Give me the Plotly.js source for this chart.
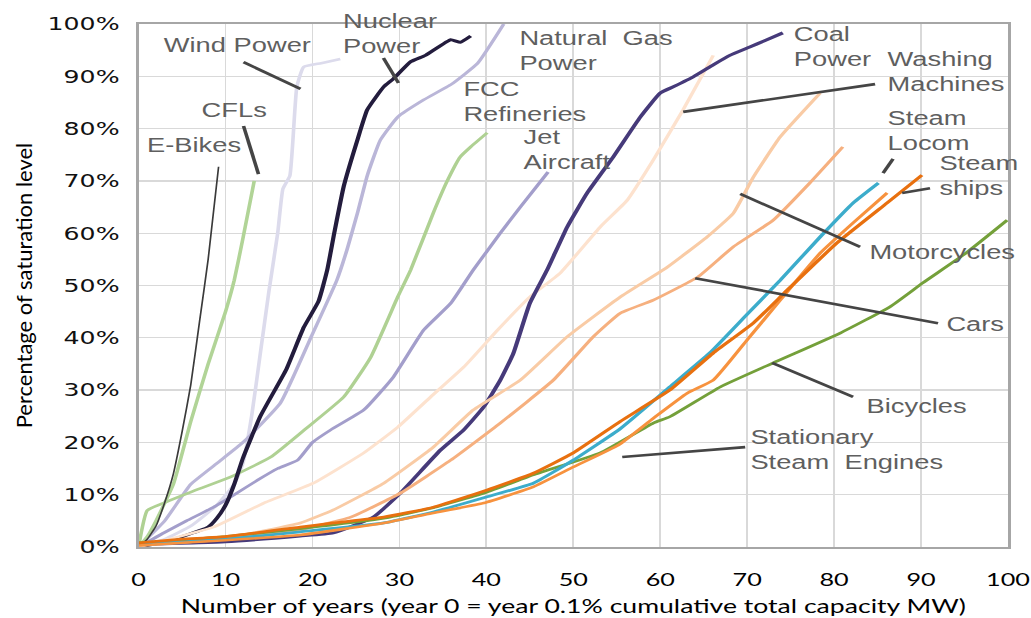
<!DOCTYPE html>
<html>
<head>
<meta charset="utf-8">
<script src="https://cdn.plot.ly/plotly-3.0.1.min.js"></script>
<style>
  html, body { margin: 0; padding: 0; overflow: hidden; background: #fff; }
  #chart { width: 736px; height: 618px; transform: scaleX(1.4); transform-origin: 0 0; }
  .g-ytitle { transform-box: fill-box; transform-origin: 50% 50%; transform: scaleX(0.7); }
</style>
</head>
<body>
<div id="chart"></div>
<script>
// ---- data (x = years since 0.1% capacity, y = % of saturation level) ----
const ebikesX = [0, 1, 2, 3, 4, 5, 6, 7, 8, 9.2];
const ebikesY = [0, 1.5, 4, 8.5, 14, 22, 31, 43, 55, 72.7];

const cflX = [0, 1, 2, 4, 6, 8, 10, 11, 12, 13.3];
const cflY = [0, 2, 5, 12, 24, 35, 45, 51, 59, 70];

const windX = [0, 3, 6, 9, 11, 12, 13, 14, 15, 16, 16.6, 17.4, 18.2, 19, 21, 23.2];
const windY = [0, 1.5, 4, 8, 12, 16, 25, 37, 49, 60, 68.5, 71, 88, 91.8, 92.5, 93.3];

const nuclearX = [0, 3, 5, 8, 9, 10, 11, 12, 14, 17, 19, 20.7, 21.7, 22.5, 23.6, 25.2, 26.3, 28.2, 29.3, 31.3, 33, 35.9, 37, 38.2];
const nuclearY = [0, 1, 2, 3.8, 5.5, 8, 12, 17, 25, 34, 42, 47, 53, 60, 69, 78, 83.6, 88, 89.5, 92.8, 94, 97, 96.5, 97.7];

const gasX = [0, 3, 6, 9, 12, 16.3, 19.8, 22.8, 24, 25.2, 26.3, 27.8, 29.8, 32.8, 36, 39, 42];
const gasY = [0, 5, 12, 16, 20, 27.5, 40, 51, 57, 64, 71, 77.8, 82.2, 85.5, 88.5, 92.5, 100];

const fccX = [0, 1, 3, 6, 10.6, 15.2, 19, 23.6, 26.7, 29.8, 31.3, 33.9, 35.5, 37, 38.2, 40.1];
const fccY = [0, 7, 8.5, 10.5, 13.4, 17.2, 22.3, 28.7, 36.3, 47.8, 53, 63.9, 70, 74.6, 76.5, 79.2];

const jetX = [0, 2.9, 5.5, 8.6, 11, 13.7, 16, 18.3, 20, 22.1, 25.9, 29.3, 32.8, 35.9, 38.5, 41.6, 43.9, 47.1];
const jetY = [0, 2.7, 5, 7.6, 10, 12.8, 15, 16.6, 20, 22.4, 26.2, 32.5, 41.5, 46.6, 53, 60, 65, 71.7];

const coalX = [0, 10, 18.6, 22.4, 27, 30.1, 34.7, 37.4, 39.7, 41.6, 43.1, 45, 47, 49.3, 51.6, 54.6, 57.7, 60, 61.5, 63.8, 66.1, 68, 70.3, 72, 74.1];
const coalY = [0.5, 1, 2.1, 2.7, 5.7, 10.3, 18.5, 22.4, 26.8, 31.9, 37, 46.6, 53, 61.2, 67.7, 74.6, 82.2, 86.8, 88, 89.9, 92.2, 94, 95.6, 96.8, 98.3];

const washX = [0, 8.6, 14.4, 20.1, 25.9, 29.8, 33.6, 37.4, 41.3, 45, 48.5, 53.1, 56.2, 59.2, 62.6, 66.1];
const washY = [0, 3.8, 8.4, 12.2, 18, 22.9, 28.7, 34.4, 41.5, 47.8, 52.4, 61.2, 66.3, 74, 83.5, 94];

const motoX = [0, 10.6, 18.6, 22.4, 28.2, 33.9, 38.5, 43.9, 49.3, 55.4, 60.8, 65.4, 68.4, 70.7, 73.8, 78.4];
const motoY = [0.5, 1.9, 4.6, 7.1, 12.2, 19.1, 26.2, 31.9, 40.2, 47.8, 53.5, 59.3, 63.8, 70.7, 78.4, 86.8];

const carsX = [0, 10, 18.6, 24.4, 30.1, 35.9, 41.6, 47.7, 52.3, 55.4, 59.2, 64.3, 68.4, 73, 77.2, 81];
const carsY = [0.3, 1.5, 3.3, 5.7, 10.3, 16.6, 23.7, 31.9, 40.2, 44.7, 47.2, 51.6, 57.4, 62.5, 69.6, 76.5];

const bikeX = [0, 5, 10, 18.6, 28.2, 33.9, 40.1, 45.4, 53.1, 59.2, 61.1, 66.9, 73, 80.7, 86.4, 90.2, 95, 99.9];
const bikeY = [0.8, 1.3, 2, 3.5, 5.5, 7.5, 10.5, 13.8, 18, 23.7, 24.9, 30.6, 35.2, 40.9, 45.9, 50.5, 56, 62.5];

const locoX = [0, 5, 10, 18.6, 28.2, 33.9, 40.1, 45.4, 50, 55.4, 61.1, 65.7, 70, 73.8, 78.4, 82.2, 85.1];
const locoY = [0.5, 1, 1.5, 2.9, 4.6, 6.7, 9.6, 12.2, 16.6, 22.6, 30.6, 37.1, 44.5, 51, 59.3, 65.8, 69.6];

const statX = [0, 5, 10, 18.6, 28.2, 33.9, 39.7, 45.4, 50, 55.2, 59.2, 63.1, 66.1, 70, 73.8, 78.4, 82.2, 86.1];
const statY = [0.3, 0.8, 1.3, 2.3, 4.6, 6.5, 8.4, 11.5, 15.3, 19.5, 24.6, 29.4, 31.9, 39.6, 47.2, 56.2, 62, 67.7];

const shipX = [0, 5, 10, 18.6, 22.4, 28.2, 33.9, 40.1, 45.4, 50, 55.4, 61.1, 66.1, 70.7, 74.6, 80.3, 86.1, 90.1];
const shipY = [0.8, 1.5, 2, 3.8, 4.6, 5.7, 7.6, 10.9, 14.1, 18, 24, 30, 37.1, 42.8, 49.1, 58.1, 65.8, 71.1];

// tick labels
const xTickVals = [0, 10, 20, 30, 40, 50, 60, 70, 80, 90, 100];
const yTickVals = [0, 10, 20, 30, 40, 50, 60, 70, 80, 90, 100];
const yTickText = ['0%', '10%', '20%', '30%', '40%', '50%', '60%', '70%', '80%', '90%', '100%'];

// labels (text, anchor position in data units)
const labelText = ['Wind Power', 'Nuclear<br>Power', 'Natural\u00a0 Gas<br>Power', 'FCC<br>Refineries', 'Jet<br>Aircraft',
  'CFLs', 'E-Bikes', 'Coal<br>Power', 'Washing<br>Machines', 'Steam<br>Locom', 'Steam<br>ships',
  'Motorcycles', 'Cars', 'Bicycles', 'Stationary<br>Steam\u00a0 Engines'];
const labelX = [2.6, 23.2, 43.5, 37.0, 43.9, 6.9, 0.6, 75.0, 85.9, 85.9, 91.8, 83.7, 92.6, 83.4, 70.1];
const labelY = [96.0, 98.1, 95.0, 85.2, 76.0, 83.5, 76.8, 95.7, 90.9, 79.7, 71.1, 56.5, 42.7, 26.9, 18.7];

// leader lines (start on curve -> end at label)
const leaderX0 = [12.07, 12.07, 28.16, 62.64, 69.2, 64.02, 72.87, 55.63, 86.78, 91.03];
const leaderY0 = [92.7, 80.5, 93.5, 83.2, 67.5, 51.4, 35.2, 17.2, 74.2, 68.6];
const leaderX1 = [18.62, 13.79, 29.89, 84.71, 82.99, 91.95, 82.18, 69.77, 85.63, 87.82];
const leaderY1 = [87.6, 71.3, 88.7, 88.5, 57.4, 42.8, 28.7, 19.1, 71.5, 67.7];

// ---- traces ----
function line(x, y, color, width) {
  return { type: 'scatter', mode: 'lines', x: x, y: y,
           line: { color: color, width: width, shape: 'spline', smoothing: 0.4 },
           hoverinfo: 'skip', showlegend: false };
}
const traces = [
  line(windX, windY, '#dcdbec', 2.6),
  line(gasX, gasY, '#bab6d8', 2.6),
  line(jetX, jetY, '#a39ecb', 2.6),
  line(fccX, fccY, '#afd193', 2.6),
  line(cflX, cflY, '#b1d497', 2.6),
  line(ebikesX, ebikesY, '#3a3a3a', 1.2),
  line(nuclearX, nuclearY, '#231c3d', 3),
  line(washX, washY, '#fde2ce', 2.6),
  line(coalX, coalY, '#463a7a', 3),
  line(motoX, motoY, '#f9cba5', 2.6),
  line(carsX, carsY, '#f6b07f', 2.6),
  line(bikeX, bikeY, '#74a03a', 2.6),
  line(locoX, locoY, '#3caccb', 2.8),
  line(statX, statY, '#f7923e', 2.6),
  line(shipX, shipY, '#e8700f', 2.8)
];

const shapes = leaderX0.map((x0, i) => ({
  type: 'line', xref: 'x', yref: 'y',
  x0: x0, y0: leaderY0[i], x1: leaderX1[i], y1: leaderY1[i],
  line: { color: '#454545', width: 2.6 }
}));

const annotations = labelText.map((t, i) => ({
  xref: 'x', yref: 'y', x: labelX[i], y: labelY[i], text: t,
  showarrow: false, xanchor: 'left', yanchor: 'middle', align: 'left',
  font: { family: 'Liberation Sans, Arial, sans-serif', size: 19.5, color: '#5f5f5f' }
}));

const layout = {
  width: 736, height: 618,
  margin: { l: 98.6, r: 16, t: 24, b: 71 },
  paper_bgcolor: '#ffffff', plot_bgcolor: '#ffffff',
  showlegend: false,
  xaxis: {
    range: [0, 100], tickvals: xTickVals, ticks: '',
    showgrid: true, gridcolor: '#d9d9d9', gridwidth: 1.3,
    showline: true, mirror: true, linecolor: '#a6a6a6', linewidth: 2,
    zeroline: false, ticklabelstandoff: 15,
    tickfont: { family: 'Lato, sans-serif', size: 18, color: '#000' },
    title: { text: 'Number of years (year 0 = year 0.1% cumulative total capacity MW)',
             font: { family: 'Lato, sans-serif', size: 19, color: '#000' }, standoff: 11 }
  },
  yaxis: {
    range: [0, 100], tickvals: yTickVals, ticktext: yTickText, ticks: '',
    showgrid: true, gridcolor: '#d9d9d9', gridwidth: 1.3,
    showline: true, mirror: true, linecolor: '#a6a6a6', linewidth: 2,
    zeroline: false, ticklabelstandoff: 8,
    tickfont: { family: 'DejaVu Sans, sans-serif', size: 18, color: '#111' },
    title: { text: 'Percentage of saturation level',
             font: { family: 'Lato, sans-serif', size: 22, color: '#000' }, standoff: 2 }
  },
  shapes: shapes,
  annotations: annotations
};

Plotly.newPlot('chart', traces, layout, { staticPlot: true, displayModeBar: false });
</script>
</body>
</html>
